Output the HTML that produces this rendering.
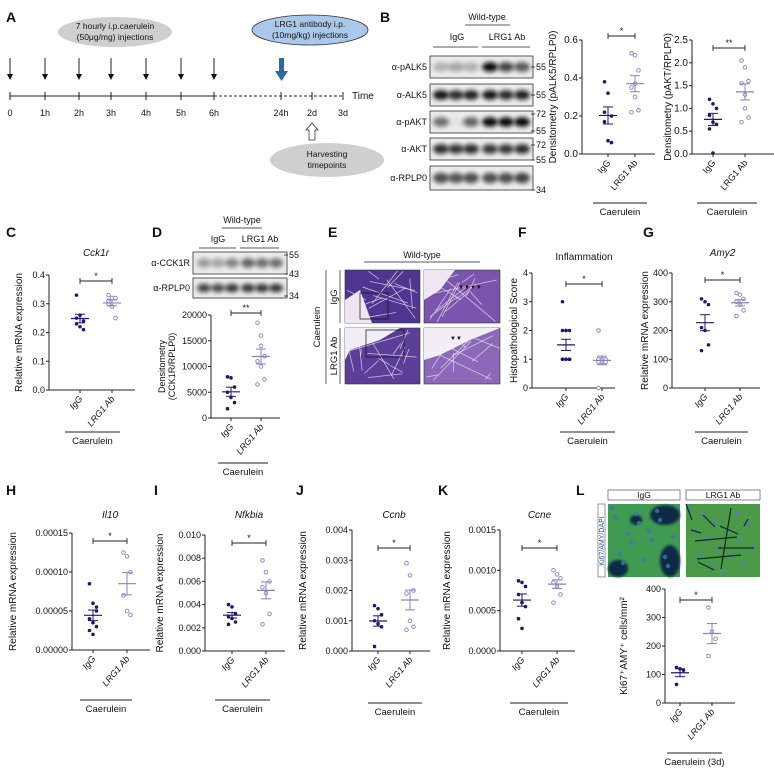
<!DOCTYPE html>
<html><head><meta charset="utf-8"><style>
html,body{margin:0;padding:0;background:#fff;}
svg{display:block;font-family:"Liberation Sans",Arial,sans-serif;}
</style></head><body>
<svg id="s" width="774" height="775" viewBox="0 0 774 775" xmlns="http://www.w3.org/2000/svg">
<defs>
<filter id="bl" x="-50%" y="-50%" width="200%" height="200%"><feGaussianBlur stdDeviation="2"/></filter>
<filter id="bl2"><feGaussianBlur stdDeviation="1.2"/></filter>
</defs>
</svg>
<script>
var S=document.getElementById('s'),NS='http://www.w3.org/2000/svg';
function E(tag,at,txt){var e=document.createElementNS(NS,tag);for(var k in at)e.setAttribute(k,at[k]);if(txt!=null)e.textContent=txt;S.appendChild(e);return e;}
function T(x,y,t,o){o=o||{};var a={x:x,y:y,'font-size':o.fs||10,fill:o.c||'#111','text-anchor':o.a||'start'};if(o.b)a['font-weight']='bold';if(o.i)a['font-style']='italic';if(o.r!=null)a.transform='rotate('+o.r+' '+x+' '+y+')';return E('text',a,t);}
function L(x1,y1,x2,y2,o){o=o||{};var a={x1:x1,y1:y1,x2:x2,y2:y2,stroke:o.c||'#222','stroke-width':o.w||1};if(o.d)a['stroke-dasharray']=o.d;return E('line',a);}
function P(letter,x,y){T(x,y,letter,{fs:14,b:1});}
/* ---------- A ---------- */
P('A',6,22);
E('ellipse',{cx:115,cy:32,rx:57,ry:15,fill:'#cfcfcf'});
T(115,29,'7 hourly i.p.caerulein',{fs:8.5,a:'middle'});T(115,40,'(50μg/mg) injections',{fs:8.5,a:'middle'});
E('ellipse',{cx:310,cy:30,rx:58,ry:15,fill:'#a9c8ea',stroke:'#333','stroke-width':0.8});
T(310,27,'LRG1 antibody i.p.',{fs:8.5,a:'middle'});T(310,38,'(10mg/kg) injections',{fs:8.5,a:'middle'});
var ax=[10,45,79,111,146,181,214];
ax.forEach(function(x){L(x,58,x,76,{w:1});E('polygon',{points:(x-3)+',74 '+(x+3)+',74 '+x+',80',fill:'#111'});});
E('rect',{x:279,y:58,width:5,height:14,fill:'#2a6aa8'});E('polygon',{points:'275,71 288,71 281.5,81',fill:'#2a6aa8'});
L(10,96,214,96);L(214,96,343,96,{d:'3,2'});
ax.concat([281,312,343]).forEach(function(x){L(x,92,x,100);});
T(352,99,'Time',{fs:10});
var tl=['0','1h','2h','3h','4h','5h','6h','24h','2d','3d'],tx=ax.concat([281,312,343]);
tl.forEach(function(t,i){T(tx[i],116,t,{fs:9,a:'middle'});});
E('polygon',{points:'309,140 315,140 315,130 318,130 312,123 306,130 309,130',fill:'#fff',stroke:'#333','stroke-width':0.8});
E('ellipse',{cx:327,cy:160,rx:57,ry:17,fill:'#cfcfcf'});
T(327,157,'Harvesting',{fs:8.5,a:'middle'});T(327,168,'timepoints',{fs:8.5,a:'middle'});
/* ---------- B blots ---------- */
P('B',380,22);
T(487,20,'Wild-type',{fs:9,a:'middle'});L(465,25,510,25,{w:0.8});
T(457,40,'IgG',{fs:9,a:'middle'});T(507,40,'LRG1 Ab',{fs:9,a:'middle'});
L(433,47,478,47,{w:0.8});L(482,47,530,47,{w:0.8});
var lanes=[441,456,471,490,506,522];
function blot(y,h,lx,ln,int,label,w){E('rect',{x:lx[0]-11,y:y,width:(lx[5]-lx[0])+22,height:h,fill:'#ebebeb',stroke:'#333','stroke-width':0.8});
 lx.forEach(function(x,i){if(int[i]>0.02)E('ellipse',{cx:x,cy:y+h/2,rx:w||8,ry:h*0.22,fill:'#111',opacity:int[i],filter:'url(#bl)'});});
 T(lx[0]-14,y+h/2+3,label,{fs:9,a:'end'});}
blot(56,22,lanes,0,[0.25,0.3,0.25,1,0.75,0.65],'α-pALK5');
blot(84,22,lanes,0,[0.95,0.85,0.9,0.95,0.85,0.9],'α-ALK5');
blot(111,22,lanes,0,[0.55,0.03,0.6,1,1,1],'α-pAKT');
blot(138,22,lanes,0,[0.85,0.8,0.85,0.8,0.8,0.85],'α-AKT');
blot(166,24,lanes,0,[0.7,0.65,0.7,0.7,0.7,0.75],'α-RPLP0');
[['55',67],['55',95],['72',114],['55',131],['72',145],['55',160],['34',190]].forEach(function(m){L(531,m[1],535,m[1],{w:0.8});T(536,m[1]+3,m[0],{fs:9});});
/* ---------- plot helper ---------- */
function plot(o){
 var x0=o.ax,yT=o.yt,yB=o.yb,max=o.max,sc=function(v){return yB-(v/max)*(yB-yT);};
 L(x0,yT,x0,yB);L(x0,yB,o.xe,yB);
 o.ticks.forEach(function(t){var y=sc(t[0]);L(x0-3,y,x0,y);T(x0-4,y+3,t[1],{fs:o.tf||9,a:'end'});});
 L(o.g1,yB,o.g1,yB+3);L(o.g2,yB,o.g2,yB+3);
 T(o.g1+3,yB+9,'IgG',{fs:9,a:'end',r:-50,i:o.it});T(o.g2+3,yB+9,'LRG1 Ab',{fs:9,a:'end',r:-50,i:o.it});
 [[o.d1,o.g1,'#1b1a6b',1],[o.d2,o.g2,'#8583bd',0]].forEach(function(g){var d=g[0],m=0;d.forEach(function(v){m+=v;});m/=d.length;
  var sd=0;d.forEach(function(v){sd+=(v-m)*(v-m);});sd=Math.sqrt(sd/(d.length-1))/Math.sqrt(d.length);
  d.forEach(function(v,i){var off=((i%3)-1)*3.5;if(g[3])E('circle',{cx:g[1]+off,cy:sc(v),r:1.8,fill:g[2]});else E('circle',{cx:g[1]+off,cy:sc(v),r:1.8,fill:'#fff',stroke:g[2],'stroke-width':0.9});});
  L(g[1]-9,sc(m),g[1]+9,sc(m),{c:g[2],w:1.2});L(g[1],sc(m-sd),g[1],sc(m+sd),{c:g[2],w:1});L(g[1]-5,sc(m-sd),g[1]+5,sc(m-sd),{c:g[2]});L(g[1]-5,sc(m+sd),g[1]+5,sc(m+sd),{c:g[2]});});
 var sy=o.sy;L(o.g1,sy,o.g2,sy,{w:0.9});L(o.g1,sy-3,o.g1,sy+3,{w:0.9});L(o.g2,sy-3,o.g2,sy+3,{w:0.9});T((o.g1+o.g2)/2,sy-2,o.star,{fs:9,a:'middle'});
 if(o.yl){if(o.yl.length==1)T(o.ylx,(yT+yB)/2,o.yl[0],{fs:o.ylf||10,a:'middle',r:-90});else{T(o.ylx-6,(yT+yB)/2,o.yl[0],{fs:9,a:'middle',r:-90});T(o.ylx+4,(yT+yB)/2,o.yl[1],{fs:9,a:'middle',r:-90});}}
 if(o.title)T((o.g1+o.g2)/2,o.ty,o.title,{fs:10,a:'middle',i:o.ti});
 L(o.cl[0],o.cy,o.cl[1],o.cy,{w:0.9});T((o.cl[0]+o.cl[1])/2,o.cy+12,o.cap||'Caerulein',{fs:9.5,a:'middle'});
}
plot({ax:582,yt:40,yb:154,max:0.6,xe:655,tf:10,ticks:[[0,'0.0'],[0.2,'0.2'],[0.4,'0.4'],[0.6,'0.6']],g1:608,g2:635,it:0,
 d1:[0.38,0.32,0.2,0.17,0.07,0.06,0.22],d2:[0.53,0.52,0.44,0.35,0.3,0.23,0.22,0.37],sy:36,star:'*',yl:['Densitometry (pALK5/RPLP0)'],ylx:556,ylf:10,cl:[593,647],cy:203});
plot({ax:692,yt:40,yb:154,max:2.5,xe:774,tf:10,ticks:[[0,'0.0'],[0.5,'0.5'],[1,'1.0'],[1.5,'1.5'],[2,'2.0'],[2.5,'2.5']],g1:713,g2:745,it:0,
 d1:[1.2,1.1,1.0,0.85,0.7,0.65,0.55,0.02],d2:[2.05,1.9,1.6,1.55,1.0,0.8,0.7,1.3],sy:48,star:'**',yl:['Densitometry (pAKT/RPLP0)'],ylx:671,ylf:10,cl:[697,757],cy:203});
/* C */
P('C',6,237);
plot({ax:49,yt:275,yb:390,max:0.4,xe:135,ticks:[[0,'0.0'],[0.1,'0.1'],[0.2,'0.2'],[0.3,'0.3'],[0.4,'0.4']],g1:80,g2:112,it:1,
 d1:[0.33,0.26,0.24,0.23,0.22,0.21,0.25],d2:[0.33,0.32,0.32,0.3,0.29,0.25,0.31],sy:281,star:'*',yl:['Relative mRNA expression'],ylx:22,title:'Cck1r',ti:1,ty:256,cl:[65,120],cy:432});
/* D */
P('D',152,237);
T(242,223,'Wild-type',{fs:9,a:'middle'});L(222,228,262,228,{w:0.8});
T(218,242,'IgG',{fs:9,a:'middle'});T(260,242,'LRG1 Ab',{fs:9,a:'middle'});L(199,248,236,248,{w:0.8});L(240,248,279,248,{w:0.8});
var dl=[204,218,232,248,262,276];
blot(252,22,dl,0,[0.35,0.3,0.45,0.6,0.55,0.55],'α-CCK1R',7);
blot(278,20,dl,0,[0.75,0.7,0.8,0.8,0.8,0.8],'α-RPLP0',7);
[['55',255],['43',274],['34',296]].forEach(function(m){L(284,m[1],288,m[1],{w:0.8});T(289,m[1]+3,m[0],{fs:9});});
plot({ax:211,yt:315,yb:418,max:20000,xe:280,ticks:[[0,'0'],[5000,'5000'],[10000,'10000'],[15000,'15000'],[20000,'20000']],g1:231,g2:261,it:1,
 d1:[8000,7800,6000,5000,4000,3000,1800],d2:[18500,16000,12000,11000,10000,7500,6500,14000],sy:313,star:'**',yl:['Densitometry','(CCK1R/RPLP0)'],ylx:171,cl:[218,268],cy:463});
/* E histology */
P('E',328,237);
T(422,258,'Wild-type',{fs:9,a:'middle'});L(364,262,480,262,{w:0.8});
function histo(x,y,w,h,c,seed){E('rect',{x:x,y:y,width:w,height:h,fill:c,stroke:'#333','stroke-width':0.6});
 var r=seed;function rnd(){r=(r*9301+49297)%233280;return r/233280;}
 for(var i=0;i<14;i++){E('line',{x1:x+rnd()*w,y1:y+rnd()*h,x2:x+rnd()*w,y2:y+rnd()*h,stroke:'#e8dcf0','stroke-width':0.8,opacity:0.8});}}
histo(345,270,75,53,'#4e3590',3);histo(424,270,76,53,'#7b55ad',7);histo(345,328,75,56,'#5a3e98',11);histo(424,328,76,56,'#8c68b8',17);
E('polygon',{points:'345,300 360,290 372,323 345,323',fill:'#eee6f2'});E('polygon',{points:'424,270 455,270 440,290 424,300',fill:'#eee6f2'});
E('polygon',{points:'345,328 400,328 380,340 350,350 345,360',fill:'#f2eef5'});E('polygon',{points:'424,328 500,328 470,340 440,355 424,360',fill:'#f2eef5'});
E('rect',{x:360,y:293,width:28,height:26,fill:'none',stroke:'#111','stroke-width':0.7});E('rect',{x:366,y:330,width:38,height:27,fill:'none',stroke:'#111','stroke-width':0.7});
T(470,289,'▼▼▼▼',{fs:6,c:'#111',a:'middle'});T(456,340,'▼▼',{fs:6,c:'#111',a:'middle'});
L(340,270,340,323,{w:0.7});L(340,328,340,384,{w:0.7});L(326,270,326,384,{w:0.7});
T(337,297,'IgG',{fs:9.5,a:'middle',r:-90});T(337,356,'LRG1 Ab',{fs:9.5,a:'middle',r:-90});T(320,327,'Caerulein',{fs:9.5,a:'middle',r:-90});
/* F */
P('F',518,237);
plot({ax:532,yt:273,yb:388,max:4,xe:615,ticks:[[0,'0'],[1,'1'],[2,'2'],[3,'3'],[4,'4']],g1:566,g2:602,it:1,
 d1:[3,2,2,2,2,1,1,1,1,1,1,1],d2:[2,1,1,1,1,0.9,0.9,0.9,0.9,0],sy:284,star:'*',yl:['Histopathological Score'],ylx:517,title:'Inflammation',ty:260,cl:[560,615],cy:432});
/* G */
P('G',643,237);
plot({ax:672,yt:273,yb:388,max:400,xe:760,ticks:[[0,'0'],[100,'100'],[200,'200'],[300,'300'],[400,'400']],g1:705,g2:740,it:1,
 d1:[310,300,290,210,200,150,130],d2:[330,325,310,300,290,270,250],sy:280,star:'*',yl:['Relative mRNA expression'],ylx:648,title:'Amy2',ti:1,ty:256,cl:[695,748],cy:432});
/* H-K */
P('H',6,495);P('I',154,495);P('J',296,495);P('K',438,495);P('L',576,495);
plot({ax:72,yt:533,yb:650,max:0.00015,xe:150,ticks:[[0,'0.00000'],[0.00005,'0.00005'],[0.0001,'0.00010'],[0.00015,'0.00015']],g1:93,g2:127,it:1,
 d1:[0.000085,0.00006,0.000055,0.00004,0.000035,0.00003,0.000025,0.00002,0.00005],d2:[0.000125,0.00012,0.0001,0.00007,0.00005,0.000045],sy:541,star:'*',yl:['Relative mRNA expression'],ylx:16,title:'Il10',ti:1,ty:518,cl:[80,132],cy:700});
plot({ax:205,yt:535,yb:651,max:0.010,xe:285,ticks:[[0,'0.000'],[0.002,'0.002'],[0.004,'0.004'],[0.006,'0.006'],[0.008,'0.008'],[0.010,'0.010']],g1:232,g2:266,it:1,
 d1:[0.004,0.0038,0.0032,0.003,0.0028,0.0025,0.0023],d2:[0.0078,0.0068,0.006,0.0055,0.005,0.0032,0.0023],sy:543,star:'*',yl:['Relative mRNA expression'],ylx:163,title:'Nfkbia',ti:1,ty:518,cl:[215,270],cy:700});
plot({ax:352,yt:530,yb:651,max:0.004,xe:430,ticks:[[0,'0.000'],[0.001,'0.001'],[0.002,'0.002'],[0.003,'0.003'],[0.004,'0.004']],g1:378,g2:410,it:1,
 d1:[0.0015,0.0014,0.0012,0.001,0.0009,0.0008,0.00015],d2:[0.0029,0.0025,0.002,0.0019,0.001,0.0008,0.0007],sy:548,star:'*',yl:['Relative mRNA expression'],ylx:306,title:'Ccnb',ti:1,ty:518,cl:[368,422],cy:703});
plot({ax:500,yt:530,yb:651,max:0.0015,xe:575,ticks:[[0,'0.0000'],[0.0005,'0.0005'],[0.001,'0.0010'],[0.0015,'0.0015']],g1:522,g2:557,it:1,
 d1:[0.00087,0.00085,0.0008,0.0007,0.0006,0.00055,0.0004,0.00028],d2:[0.001,0.00095,0.0009,0.00085,0.0008,0.0007,0.0006],sy:548,star:'*',yl:['Relative mRNA expression'],ylx:450,title:'Ccne',ti:1,ty:518,cl:[510,568],cy:703});
/* L */
E('rect',{x:608,y:490,width:72,height:10,fill:'#fff',stroke:'#555','stroke-width':0.7});T(644,498,'IgG',{fs:8.5,a:'middle'});
E('rect',{x:686,y:490,width:74,height:10,fill:'#fff',stroke:'#555','stroke-width':0.7});T(723,498,'LRG1 Ab',{fs:8.5,a:'middle'});
E('rect',{x:608,y:504,width:72,height:73,fill:'#3f9a52'});E('rect',{x:686,y:504,width:74,height:73,fill:'#4a9a48'});
[[650,505,30,20],[608,560,20,17],[660,545,20,32],[630,515,12,10]].forEach(function(b){E('ellipse',{cx:b[0]+b[2]/2,cy:b[1]+b[3]/2,rx:b[2]/2,ry:b[3]/2,fill:'#0e2a44',filter:'url(#bl2)'});});
for(var i=0;i<16;i++){var cx=612+(i*37)%66,cy=508+(i*23)%66;E('circle',{cx:cx,cy:cy,r:2.2,fill:'#4a6fb8',opacity:0.8});E('circle',{cx:690+(i*29)%66,cy:508+(i*41)%66,r:2.2,fill:'#5a7cc0',opacity:0.8});}
for(var j=0;j<10;j++){E('line',{x1:686+(j*17)%74,y1:504+(j*11)%73,x2:692+(j*23)%66,y2:520+(j*7)%50,stroke:'#102a20','stroke-width':1.2});}
E('rect',{x:598,y:504,width:7,height:73,fill:'#fff',stroke:'#555','stroke-width':0.6});
T(604,541,'Ki67/AMY/DAPI',{fs:7,a:'middle',r:-90,c:'#3050a0'});
plot({ax:665,yt:589,yb:703,max:400,xe:735,ticks:[[0,'0'],[100,'100'],[200,'200'],[300,'300'],[400,'400']],g1:680,g2:712,it:1,
 d1:[125,120,115,65],d2:[335,250,225,165],sy:600,star:'*',yl:['Ki67⁺AMY⁺ cells/mm²'],ylx:627,cl:[667,722],cy:753,cap:'Caerulein (3d)'});
</script>
</body></html>
